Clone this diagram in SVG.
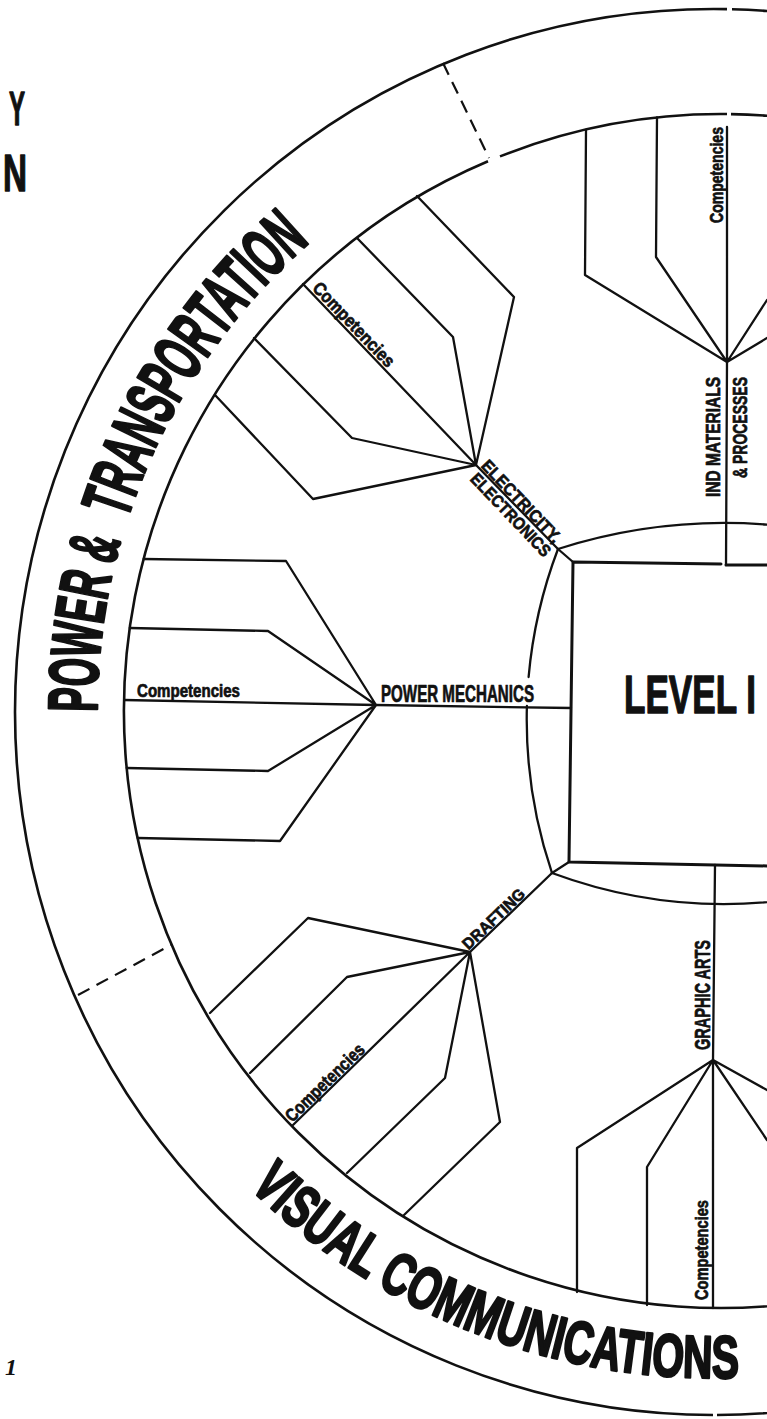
<svg xmlns="http://www.w3.org/2000/svg" width="767" height="1419" viewBox="0 0 767 1419">
<style>
.ln{fill:none;stroke:#111;stroke-width:2.3;stroke-linejoin:round;stroke-linecap:round}
.ring{fill:none;stroke:#111;stroke-width:2.6}
.box{fill:none;stroke:#111;stroke-width:3;stroke-linecap:round;stroke-linejoin:round}
.dash{fill:none;stroke:#111;stroke-width:2.2;stroke-dasharray:13 8}
.t{font-family:"Liberation Sans Narrow","Liberation Sans",Arial,sans-serif;font-weight:bold;fill:#111;stroke:#111;stroke-width:0.7;stroke-linejoin:round}
.cp{font-size:18px}
.big{stroke-width:2.6}
.mid{stroke-width:1.4}
</style>
<defs>
<path id="arcPT" d="M 97 712 A 622 622 0 0 1 362.2 201.5"/>
<path id="arcVC" d="M 249.3 1187.6 A 667 667 0 0 0 831.8 1367.9"/>
</defs>
<rect width="767" height="1419" fill="#fff"/>

<g id="band">
<path class="ring" d="M 727 9.12 A 699 703 0 0 0 15 712 A 699 703 0 0 0 713 1415 M 717 1415 A 699 703 0 0 0 1413 712 A 699 703 0 0 0 732 9.23"/>
<path class="ring" d="M 727 114.03 A 597 597 0 0 0 500 156.4 M 488 161.3 A 597 597 0 1 0 731 114.08"/>
<line class="dash" x1="443" y1="63" x2="489" y2="158"/>
<line class="dash" x1="78" y1="995" x2="171" y2="945"/>
<text class="t big" font-size="70"><textPath href="#arcPT" textLength="174" lengthAdjust="spacingAndGlyphs">POWER &amp;</textPath></text>
<text class="t big" font-size="70"><textPath href="#arcPT" startOffset="195" textLength="337" lengthAdjust="spacingAndGlyphs">TRANSPORTATION</textPath></text>
<text class="t big" font-size="60"><textPath href="#arcVC" textLength="540" lengthAdjust="spacingAndGlyphs">VISUAL COMMUNICATIONS</textPath></text>
</g>

<g id="connectors">
<path class="ln" d="M 558 549 L 573 562 M 552 873 L 569 862"/>
<path class="ln" d="M 558 549 A 549 549 0 0 1 790 526.9"/>
<path class="ln" d="M 552 873 A 498 498 0 0 0 790 899.7"/>
<path class="ln" d="M 558 549 A 480 480 0 0 0 528.6 677 M 526.9 706 A 480 480 0 0 0 552 873"/>
<path class="ln" d="M 376 705 L 571 708"/>
<path class="ln" d="M 476 465 L 558 549"/>
<path class="ln" d="M 470 952 L 552 873"/>
<path class="ln" d="M 727 362 L 726 565"/>
<path class="ln" d="M 715 865 L 713 1060"/>
</g>

<g id="level-1">
<path class="box" d="M 573 562 L 721 564 M 726 565 L 770 565 M 573 562 L 569 862 L 770 866"/>
<text class="t mid" transform="translate(624,713) scale(0.65,1)" font-size="53" textLength="203" lengthAdjust="spacingAndGlyphs">LEVEL I</text>
</g>

<g id="power-mechanics">
<path class="ln" d="M 143.7 559 L 286 561 L 376 705 M 129.8 628 L 268 631 L 376 705 M 124.2 700 L 376 705 M 126.7 768 L 268 771 L 376 705 M 137.7 838 L 280 841 L 376 705"/>
<text class="t cp" x="137" y="697" textLength="103" lengthAdjust="spacingAndGlyphs">Competencies</text>
<text class="t" x="381" y="702" font-size="23" textLength="153" lengthAdjust="spacingAndGlyphs">POWER MECHANICS</text>
</g>

<g id="electricity-electronics">
<path class="ln" d="M 417 196 L 514 297 L 476 465 M 357 238 L 453 337 L 476 465 M 303 284 L 476 465 M 254 338 L 352 438 L 476 465 M 215 395 L 313 499 L 476 465"/>
<text class="t cp" transform="translate(311.4,288.9) rotate(46.3)" textLength="110" lengthAdjust="spacingAndGlyphs">Competencies</text>
<text class="t" font-size="17" transform="translate(480.2,466.5) rotate(46.4)" textLength="107" lengthAdjust="spacingAndGlyphs">ELECTRICITY,</text>
<text class="t" font-size="17" transform="translate(469.3,479.7) rotate(46.4)" textLength="108" lengthAdjust="spacingAndGlyphs">ELECTRONICS</text>
</g>

<g id="ind-materials">
<path class="ln" d="M 727 127 L 727 362 M 657 117.5 L 656 257 L 727 362 M 586 130 L 585 275 L 727 362 M 727 362 L 767 300 M 727 362 L 767 338"/>
<text class="t cp" transform="translate(723,223) rotate(-90)" textLength="96" lengthAdjust="spacingAndGlyphs">Competencies</text>
<text class="t" font-size="20" transform="translate(720,497) rotate(-90)" textLength="120" lengthAdjust="spacingAndGlyphs">IND MATERIALS</text>
<text class="t" font-size="20" transform="translate(747,478) rotate(-90)" textLength="101" lengthAdjust="spacingAndGlyphs">&amp; PROCESSES</text>
</g>

<g id="drafting">
<path class="ln" d="M 210 1013 L 308 918 L 470 952 M 250 1073 L 347 977 L 470 952 M 293 1125 L 470 952 M 347 1173 L 445 1078 L 470 952 M 404 1215 L 500 1122 L 470 952"/>
<text class="t" font-size="16" transform="translate(468.6,950.6) rotate(-43.9)" textLength="80" lengthAdjust="spacingAndGlyphs">DRAFTING</text>
<text class="t cp" transform="translate(292.3,1122.9) rotate(-44.35)" textLength="103" lengthAdjust="spacingAndGlyphs">Competencies</text>
</g>

<g id="graphic-arts">
<path class="ln" d="M 713 1060 L 713 1308 M 577 1292 L 577 1148 L 713 1060 M 647 1305 L 647 1167 L 713 1060 M 713 1060 L 767 1090 M 713 1060 L 767 1140"/>
<text class="t" font-size="22" transform="translate(710,1050) rotate(-90)" textLength="110" lengthAdjust="spacingAndGlyphs">GRAPHIC ARTS</text>
<text class="t cp" transform="translate(708,1300) rotate(-90)" textLength="100" lengthAdjust="spacingAndGlyphs">Competencies</text>
</g>

<g id="margin-text">
<text class="t mid" x="9" y="125" font-size="48" textLength="16" lengthAdjust="spacingAndGlyphs">Y</text>
<text class="t mid" x="3" y="191" font-size="52" textLength="24" lengthAdjust="spacingAndGlyphs">N</text>
<text x="5" y="1375" font-family="'Liberation Serif',serif" font-style="italic" font-weight="bold" font-size="24" fill="#111">1</text>
</g>
</svg>
